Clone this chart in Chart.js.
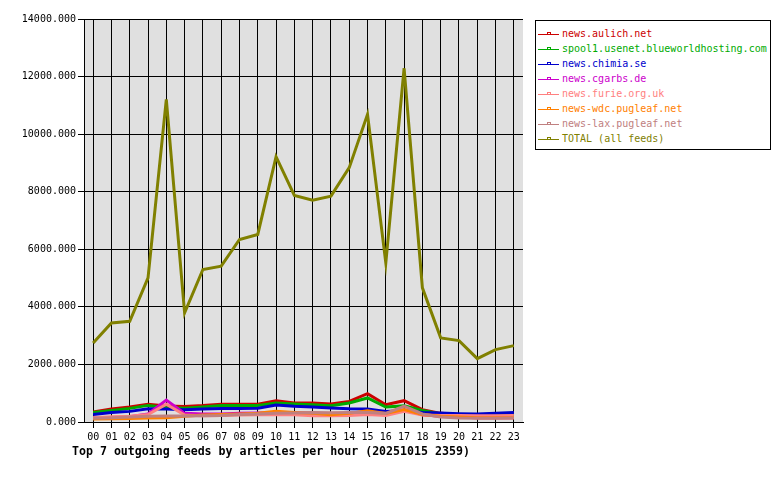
<!DOCTYPE html>
<html>
<head>
<meta charset="utf-8">
<script src="https://cdn.jsdelivr.net/npm/chart.js@4"></script>
<style>
html,body{margin:0;padding:0;background:#fff;}
#wrap{position:relative;width:780px;height:480px;overflow:hidden;}
#c{position:absolute;left:0;top:0;}
#legend{position:absolute;left:535px;top:20px;width:236px;height:130px;border:1px solid #000;box-sizing:border-box;background:#fff;}
.row{position:absolute;left:0;height:15px;line-height:15px;white-space:nowrap;font-family:"DejaVu Sans Mono",monospace;font-size:10px;}
.row svg{position:absolute;left:2px;top:4px;}
.row span{position:absolute;left:26px;top:0;}
#title{position:absolute;left:72px;top:444px;font-family:"DejaVu Sans Mono",monospace;font-weight:bold;font-size:11.6px;color:#000;white-space:nowrap;}
</style>
</head>
<body>
<div id="wrap">
<canvas id="c" width="780" height="480"></canvas>
<div id="legend"></div>
<div id="title">Top 7 outgoing feeds by articles per hour (20251015 2359)</div>
</div>
<script>
// ---- data ----
const hours = ['00','01','02','03','04','05','06','07','08','09','10','11','12','13','14','15','16','17','18','19','20','21','22','23'];
const feedNames = ['news.aulich.net','spool1.usenet.blueworldhosting.com','news.chimia.se','news.cgarbs.de','news.furie.org.uk','news-wdc.pugleaf.net','news-lax.pugleaf.net','TOTAL (all feeds)'];
const feedColors = ['#cc0000','#00aa00','#0000cc','#cc00cc','#ff8080','#ff8000','#c08080','#808000'];
const aulich  = [350, 450, 520, 620, 560, 540, 570, 620, 620, 620, 740, 660, 660, 626, 716, 984, 602, 740, 430, 300, 260, 240, 260, 270];
const spool1  = [334, 403, 473, 577, 500, 480, 522, 577, 577, 570, 660, 626, 602, 567, 660, 835, 522, 560, 403, 280, 240, 220, 240, 250];
const chimia  = [264, 334, 369, 462, 452, 428, 452, 473, 473, 480, 591, 543, 522, 487, 462, 452, 369, 403, 334, 313, 289, 278, 300, 334];
const cgarbs  = [150, 160, 180, 280, 760, 300, 278, 278, 300, 313, 320, 320, 300, 290, 300, 300, 280, 420, 250, 200, 170, 150, 150, 150];
const furie   = [150, 180, 200, 260, 620, 240, 220, 230, 240, 250, 260, 250, 219, 219, 230, 260, 230, 370, 240, 230, 230, 220, 220, 230];
const wdc     = [100, 110, 120, 139, 150, 200, 240, 260, 280, 300, 369, 330, 300, 254, 300, 390, 300, 430, 260, 200, 170, 150, 150, 150];
const lax     = [132, 150, 170, 200, 210, 210, 219, 230, 260, 280, 300, 313, 334, 320, 330, 334, 300, 550, 280, 170, 139, 130, 130, 140];
const total   = [2748, 3443, 3500, 5009, 11210, 3791, 5297, 5412, 6341, 6515, 9217, 7871, 7708, 7847, 8835, 10689, 5530, 12289, 4661, 2922, 2828, 2202, 2515, 2654];
const seriesList = [aulich, spool1, chimia, cgarbs, furie, wdc, lax, total];
const yMax = 14000, yStep = 2000;

// ---- legend (HTML) ----
const lg = document.getElementById('legend');
feedNames.forEach((n, i) => {
  const r = document.createElement('div');
  r.className = 'row';
  r.style.top = (5 + i * 15.06) + 'px';
  r.style.color = feedColors[i];
  r.innerHTML = '<svg width="22" height="7"><line x1="0" y1="4.5" x2="21" y2="4.5" stroke="' + feedColors[i] + '" stroke-width="1"/>' +
    '<rect x="9.5" y="2.5" width="3" height="2" fill="none" stroke="' + feedColors[i] + '" stroke-width="1"/></svg><span></span>';
  r.querySelector('span').textContent = n;
  lg.appendChild(r);
});

// ---- chart ----
const bgPlugin = {
  id: 'bg',
  beforeDraw(chart) {
    const a = chart.chartArea, c = chart.ctx;
    c.save();
    c.fillStyle = '#e0e0e0';
    c.fillRect(a.left, a.top, a.right - a.left, a.bottom - a.top);
    c.restore();
  }
};

const datasets = seriesList.map((d, i) => ({
  label: feedNames[i],
  data: d,
  borderColor: feedColors[i],
  backgroundColor: feedColors[i],
  borderWidth: 3,
  pointRadius: 0,
  tension: 0,
  fill: false,
  order: seriesList.length - i
}));

new Chart(document.getElementById('c'), {
  type: 'line',
  data: { labels: hours, datasets },
  options: {
    responsive: false,
    animation: false,
    devicePixelRatio: 1,
    layout: { padding: { left: 0, right: 257, top: 19, bottom: 0 } },
    plugins: { legend: { display: false }, title: { display: false }, tooltip: { enabled: false } },
    scales: {
      x: {
        offset: true,
        grid: { color: '#000', lineWidth: 1, offset: false, tickLength: 6 },
        border: { color: '#000', width: 1 },
        ticks: { color: '#000', font: { family: 'DejaVu Sans Mono', size: 10 }, padding: 3, maxRotation: 0, autoSkip: false },
        afterFit(s) { s.height = 58; }
      },
      y: {
        min: 0, max: yMax,
        grid: { color: '#000', lineWidth: 1, tickLength: 6 },
        border: { color: '#000', width: 1 },
        ticks: { stepSize: yStep, color: '#000', font: { family: 'DejaVu Sans Mono', size: 10 }, padding: 2,
          callback: v => Number(v).toFixed(3) },
        afterFit(s) { s.width = 84; }
      }
    }
  },
  plugins: [bgPlugin]
});
</script>
</body>
</html>
